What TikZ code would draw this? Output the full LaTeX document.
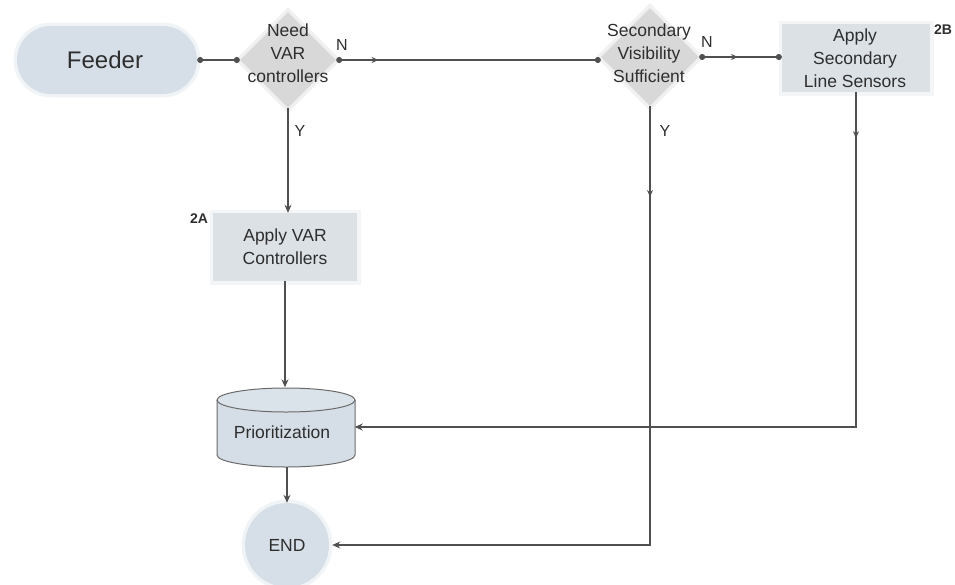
\documentclass[tikz,border=0pt]{standalone}
\usepackage{fontspec}
\setmainfont{Liberation Sans}
\usetikzlibrary{shapes.geometric,arrows.meta,decorations.markings,calc}

\definecolor{linegray}{HTML}{505050}
\definecolor{inkgray}{HTML}{2E2E2E}
\definecolor{termfill}{HTML}{D6DFE7}
\definecolor{decfill}{HTML}{D8D8D8}
\definecolor{procfill}{HTML}{DCE1E6}
\definecolor{cylfill}{HTML}{D5DEE6}

\tikzset{
  x=1pt, y=-1pt,
  txt/.style={font=\fontsize{17.5}{23}\selectfont, text=inkgray, align=center, inner sep=0},
  soft/.style={preaction={draw=#1, line width=7pt, draw opacity=0.35}},
  terminal/.style={rectangle, rounded corners=34pt, fill=termfill, soft=termfill,
    minimum width=180pt, minimum height=68pt, inner sep=0},
  decision/.style={diamond, fill=decfill, soft=decfill, inner sep=0,
    minimum width=96pt, minimum height=96pt},
  process/.style={rectangle, fill=procfill, soft=procfill, inner sep=0,
    minimum height=68pt},
  endnode/.style={circle, fill=termfill, soft=termfill, minimum size=84pt, inner sep=0},
  tag/.style={font=\fontsize{14}{16}\selectfont\bfseries, text=inkgray, inner sep=0},
  yn/.style={font=\fontsize{16}{18}\selectfont, text=inkgray, inner sep=0},
  flow/.style={draw=linegray, line width=1.3pt},
  tip/.style={-{Stealth[length=8pt,width=7pt]}},
  dots/.style={{Circle[length=6pt]}-{Circle[length=6pt]}},
  midtip/.style={postaction={decorate}, decoration={markings,
    mark=at position #1 with {\arrow{Stealth[length=7pt,width=6pt]}}}},
}

\begin{document}
\begin{tikzpicture}
\useasboundingbox (0,0) rectangle (955,584);

% shapes
\node[terminal] (feeder) at (107,60) {};
\node[txt, font=\fontsize{24}{28}\selectfont] (feedertxt) at (105,60) {Feeder};

\node[decision] (d1) at (288,60) {};
\node[txt] (d1txt) at (288,53) {Need\\VAR\\controllers};

\node[decision, minimum width=98pt, minimum height=98pt] (d2) at (650,57) {};
\node[txt] (d2txt) at (649,53) {Secondary\\Visibility\\Sufficient};

\node[process, minimum width=148pt] (b2b) at (856,58) {};
\node[txt] (b2btxt) at (855,58) {Apply\\Secondary\\Line Sensors};
\node[tag] (t2b) at (943,30) {2B};

\node[process, minimum width=144pt] (b2a) at (285,247) {};
\node[txt] (b2atxt) at (285,247) {Apply VAR\\Controllers};
\node[tag] (t2a) at (199,219) {2A};

% storage cylinder
\node[minimum width=137pt, minimum height=79pt, inner sep=0] (cyl) at (286,427) {};
\fill[cylfill] (217,400) rectangle (355,455);
\fill[cylfill] (286,455) ellipse [x radius=69, y radius=12];
\draw[draw=linegray!85, line width=1pt, fill=cylfill!85!white]
  (286,400) ellipse [x radius=69, y radius=12];
\draw[draw=linegray!85, line width=1pt]
  (217,400) -- (217,455) arc[start angle=180, end angle=0, x radius=69, y radius=12] -- (355,400);
\node[txt] (cyltxt) at (282,432) {Prioritization};

\node[endnode] (endn) at (287,545) {};
\node[txt] (endtxt) at (287,545) {END};

% connectors
\draw[flow, dots] (feeder.east) -- (d1.west);
\draw[flow, dots, midtip=0.16] (d1.east) -- (d1.east -| d2.west);
\node[yn] (n1) at (342,45) {N};
\draw[flow, dots, midtip=0.47] (d2.east) -- (d2.east -| b2b.west);
\node[yn] (n2) at (707,42) {N};

\draw[flow, tip] (d1.south) -- (d1.south |- b2a.north);
\node[yn] (y1) at (300,131) {Y};
\draw[flow, tip] (b2a.south) -- (b2a.south |- cyl.north);
\draw[flow, tip] (cyl.south -| endn.north) -- (endn.north);

\coordinate (c2b) at (b2b.south |- cyl.east);
\draw[flow, tip, midtip=0.055] (b2b.south) -- (c2b) -- (cyl.east);

\coordinate (cd2) at (d2.south |- endn.east);
\draw[flow, tip, midtip=0.12] (d2.south) -- (cd2) -- ([xshift=3pt]endn.east);
\node[yn] (y2) at (665,131) {Y};

\end{tikzpicture}
\end{document}
